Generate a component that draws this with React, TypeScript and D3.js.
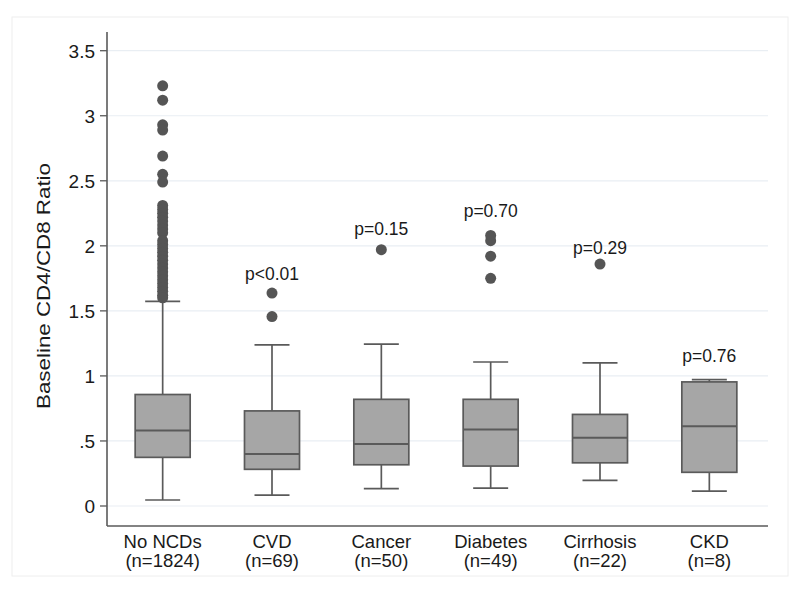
import React from "react";
import * as d3 from "d3";

const categories = ["No NCDs", "CVD", "Cancer", "Diabetes", "Cirrhosis", "CKD"];
const counts = ["(n=1824)", "(n=69)", "(n=50)", "(n=49)", "(n=22)", "(n=8)"];
const lowerWhisker = [0.046, 0.084, 0.133, 0.138, 0.197, 0.115];
const q1 = [0.374, 0.282, 0.317, 0.307, 0.332, 0.259];
const median = [0.581, 0.399, 0.476, 0.589, 0.524, 0.614];
const q3 = [0.857, 0.731, 0.82, 0.82, 0.704, 0.954];
const upperWhisker = [1.573, 1.238, 1.245, 1.107, 1.1, 0.972];
const outliers: number[][] = [
  [3.23, 3.12, 2.93, 2.89, 2.69, 2.55, 2.49, 2.31, 2.28, 2.25, 2.22, 2.19, 2.16, 2.13, 2.1,
   2.04, 2.01, 1.98, 1.95, 1.92, 1.89, 1.86, 1.83, 1.8, 1.77, 1.74, 1.71, 1.68, 1.65, 1.62, 1.6],
  [1.456, 1.637],
  [1.97],
  [1.75, 1.92, 2.04, 2.08],
  [1.86],
  [],
];
const pLabels = ["p<0.01", "p=0.15", "p=0.70", "p=0.29", "p=0.76"];
const pLabelValues = [1.74, 2.085, 2.225, 1.935, 1.105];
const yTicks = [0, 0.5, 1, 1.5, 2, 2.5, 3, 3.5];
const yTickLabels = ["0", ".5", "1", "1.5", "2", "2.5", "3", "3.5"];

const W = 800;
const H = 590;
const FONT = "'Liberation Sans', Arial, Helvetica, sans-serif";

export default function App() {
  const x = d3.scalePoint<string>().domain(categories).range([108, 764]).padding(0.5);
  const y = d3.scaleLinear().domain([0, 3.5]).range([506, 50.7]);
  const left = 107;
  const right = 768;
  const bottom = 526;
  const top = 32;
  const boxW = 55;
  const capW = 35;
  const stroke = "#5a5a5a";
  const sw = 1.7;
  const textFill = "#1a1a1a";

  return (
    <div style={{ position: "absolute", left: 0, top: 0 }}>
      <svg width={W} height={H} style={{ display: "block", background: "#fff" }}>
        <rect x={12} y={17} width={776} height={559} fill="none" stroke="#eeeeee" strokeWidth={1} />
        {yTicks.map((t, i) => (
          <g key={i}>
            <line x1={left} x2={right} y1={y(t)} y2={y(t)} stroke="#e9eef3" strokeWidth={1.2} />
            <line x1={left - 7} x2={left} y1={y(t)} y2={y(t)} stroke={stroke} strokeWidth={1.3} />
            <text x={left - 12} y={y(t)} dy="0.36em" textAnchor="end" fontFamily={FONT} fontSize={19} fill={textFill}>
              {yTickLabels[i]}
            </text>
          </g>
        ))}
        <line x1={left} x2={left} y1={top} y2={bottom} stroke={stroke} strokeWidth={1.6} />
        <line x1={left} x2={right} y1={bottom} y2={bottom} stroke={stroke} strokeWidth={1.6} />
        <text
          transform={`translate(50,${286}) rotate(-90)`}
          textAnchor="middle"
          fontFamily={FONT}
          fontSize={18.5}
          fill={textFill}
          textLength={246}
          lengthAdjust="spacingAndGlyphs"
        >
          Baseline CD4/CD8 Ratio
        </text>
        {categories.map((c, i) => {
          const cx = x(c) as number;
          return (
            <g key={c}>
              <line x1={cx} x2={cx} y1={y(upperWhisker[i])} y2={y(q3[i])} stroke={stroke} strokeWidth={sw} />
              <line x1={cx} x2={cx} y1={y(q1[i])} y2={y(lowerWhisker[i])} stroke={stroke} strokeWidth={sw} />
              <line x1={cx - capW / 2} x2={cx + capW / 2} y1={y(upperWhisker[i])} y2={y(upperWhisker[i])} stroke={stroke} strokeWidth={sw} />
              <line x1={cx - capW / 2} x2={cx + capW / 2} y1={y(lowerWhisker[i])} y2={y(lowerWhisker[i])} stroke={stroke} strokeWidth={sw} />
              <rect
                x={cx - boxW / 2}
                y={y(q3[i])}
                width={boxW}
                height={y(q1[i]) - y(q3[i])}
                fill="#a6a6a6"
                stroke={stroke}
                strokeWidth={sw}
              />
              <line x1={cx - boxW / 2} x2={cx + boxW / 2} y1={y(median[i])} y2={y(median[i])} stroke={stroke} strokeWidth={sw + 0.3} />
              {outliers[i].map((v, j) => (
                <circle key={j} cx={cx} cy={y(v)} r={5.5} fill="#555555" />
              ))}
              {i > 0 && (
                <text x={cx} y={y(pLabelValues[i - 1])} textAnchor="middle" fontFamily={FONT} fontSize={17.5} fill={textFill}>
                  {pLabels[i - 1]}
                </text>
              )}
              <text x={cx} y={548} textAnchor="middle" fontFamily={FONT} fontSize={18.5} fill={textFill}>
                {c}
              </text>
              <text x={cx} y={567} textAnchor="middle" fontFamily={FONT} fontSize={18.5} fill={textFill}>
                {counts[i]}
              </text>
            </g>
          );
        })}
      </svg>
    </div>
  );
}
